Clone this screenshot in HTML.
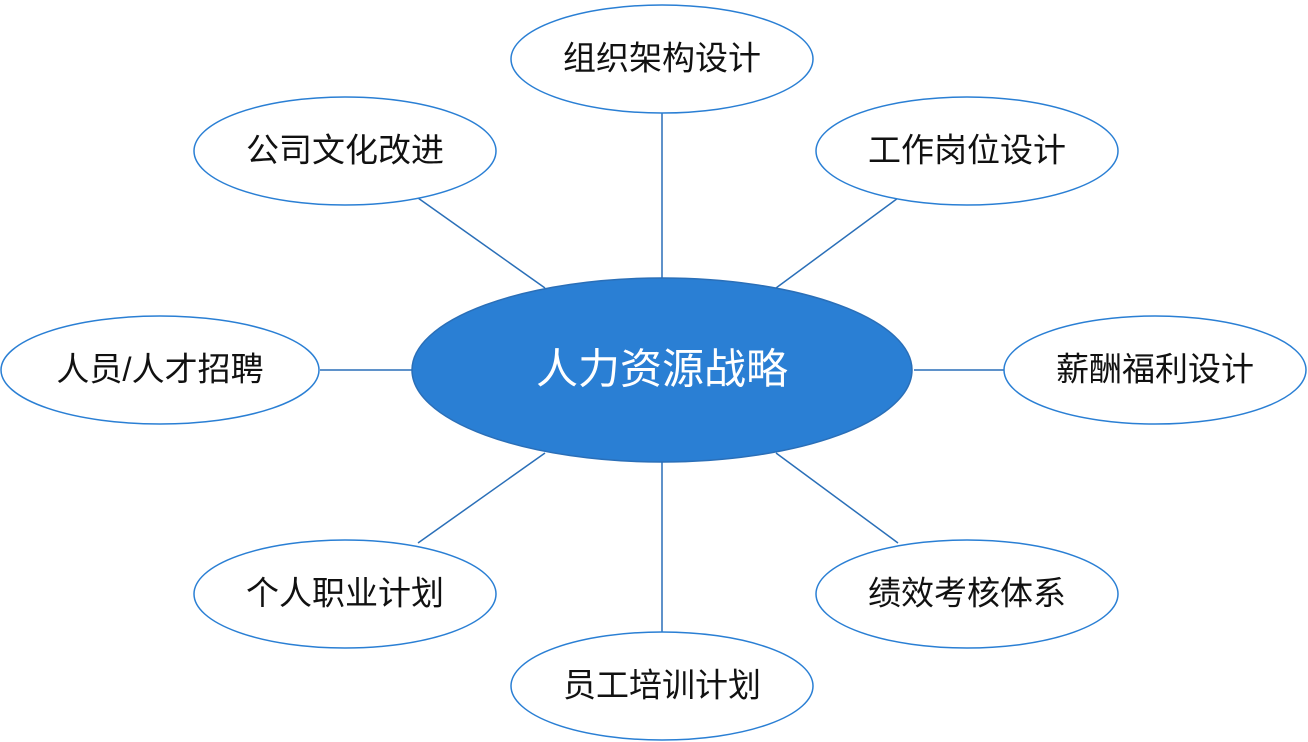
<!DOCTYPE html>
<html><head><meta charset="utf-8"><style>
html,body{margin:0;padding:0;background:#fff;width:1308px;height:742px;overflow:hidden}
text{font-family:"Liberation Sans","Noto Sans CJK SC",sans-serif;text-anchor:middle;dominant-baseline:central}
</style></head><body>
<svg width="1308" height="742" viewBox="0 0 1308 742" xmlns="http://www.w3.org/2000/svg">
<g stroke="#2a6fb8" stroke-width="1.5">
<line x1="662" y1="113" x2="662" y2="278"/>
<line x1="418" y1="198" x2="545" y2="288"/>
<line x1="898" y1="198" x2="776" y2="288"/>
<line x1="320" y1="370" x2="412" y2="370"/>
<line x1="914" y1="370" x2="1005" y2="370"/>
<line x1="418" y1="543" x2="545" y2="453"/>
<line x1="898" y1="543" x2="776" y2="453"/>
<line x1="662" y1="462" x2="662" y2="632"/>
</g>
<g fill="#fff" stroke="#2a7fd4" stroke-width="1.5">
<ellipse cx="662" cy="59" rx="151" ry="54"/>
<ellipse cx="345" cy="151" rx="151" ry="54"/>
<ellipse cx="967" cy="151" rx="151" ry="54"/>
<ellipse cx="160" cy="370" rx="159" ry="54"/>
<ellipse cx="1155" cy="370" rx="151" ry="54"/>
<ellipse cx="345" cy="594" rx="151" ry="54"/>
<ellipse cx="967" cy="594" rx="151" ry="54"/>
<ellipse cx="662" cy="686" rx="151" ry="54"/>
</g>
<ellipse cx="662" cy="370" rx="250" ry="92" fill="#2a7fd4" stroke="#2a6fb8" stroke-width="1.5"/>
<g font-size="33" fill="#111">
<text x="662" y="58">组织架构设计</text>
<text x="345" y="150">公司文化改进</text>
<text x="967" y="150">工作岗位设计</text>
<text x="160" y="369">人员/人才招聘</text>
<text x="1155" y="369">薪酬福利设计</text>
<text x="345" y="593">个人职业计划</text>
<text x="967" y="593">绩效考核体系</text>
<text x="662" y="685">员工培训计划</text>
</g>
<text x="662" y="369" font-size="42" fill="#fff">人力资源战略</text>
</svg>
</body></html>
